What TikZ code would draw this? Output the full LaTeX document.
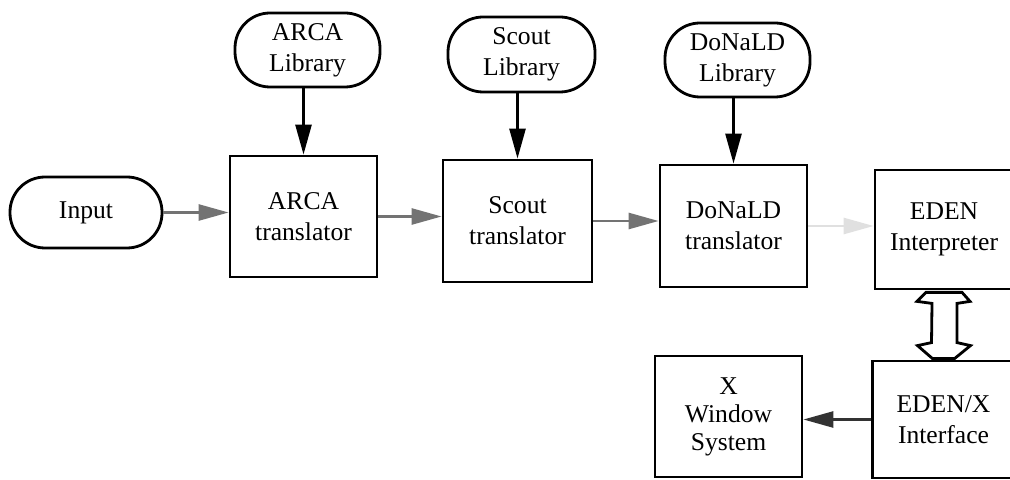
\documentclass[tikz,border=0pt]{standalone}
\usepackage{fontspec}
\setmainfont{Liberation Serif}
\usetikzlibrary{arrows.meta,calc}
\begin{document}
\begin{tikzpicture}[x=0.5pt,y=-0.5pt,
  box/.style={draw,line width=1.4pt,inner sep=0pt,align=center,
    font=\fontsize{12.8}{15.5}\selectfont},
  pill/.style={box,rounded corners=17.5pt},
  arr/.style={line width=1.3pt,-{Triangle[length=15pt,width=8pt]}},
  harr/.style={arr,draw=black!55,fill=black!70},
  faintarr/.style={arr,draw=black!12,fill=black!45},
  hollow/.style={line width=1.4pt,line join=miter,fill=white}]
\useasboundingbox (0,0) rectangle (1010,480);
\clip (0,0) rectangle (1010,480);
\fill[white] (0,0) rectangle (1010,480);

\node[pill,minimum width=76pt,minimum height=35.5pt] (in) at (86,212.5) {Input};
\node[pill,minimum width=72.5pt,minimum height=37pt] (al) at (307.5,50) {ARCA\\Library};
\node[box,minimum width=73.5pt,minimum height=60.5pt] (at) at (303.5,216.5) {ARCA\\translator};
\node[pill,minimum width=73.5pt,minimum height=37.5pt] (sl) at (521.5,54.5) {Scout\\Library};
\node[box,minimum width=74.5pt,minimum height=61pt] (st) at (517.5,221) {Scout\\translator};
\node[pill,minimum width=72.5pt,minimum height=37pt] (dl) at (737.5,60) {DoNaLD\\Library};
\node[box,minimum width=73.5pt,minimum height=61pt] (dt) at (733.5,226) {DoNaLD\\translator};
\node[box,minimum width=69pt,minimum height=59.5pt] (ei) at (944,229.5) {EDEN\\Interpreter};
\node[box,minimum width=73.5pt,minimum height=60.5pt,
  font=\fontsize{12.8}{14}\selectfont] (xw) at (728.5,416.5) {X\\Window\\System};
\node[box,minimum width=71pt,minimum height=58.5pt] (ex) at (943.5,419.5) {EDEN/X\\Interface};

% vertical library arrows
\draw[arr] (al.south -| at.north) -- (at.north);
\draw[arr] (sl.south -| st.north) -- (st.north);
\draw[arr] (dl.south -| dt.north) -- (dt.north);

% horizontal chain
\draw[harr] (in.east) -- (at.west |- in.east);
\draw[harr] (at.east) -- (st.west |- at.east);
\draw[harr] (st.east) -- (dt.west |- st.east);
\draw[faintarr] (dt.east) -- (ei.west |- dt.east);
\draw[arr,draw=black!80,fill=black!65] (ex.west) -- (xw.east |- ex.west);

% hollow double arrow between EDEN Interpreter and EDEN/X Interface
\draw[hollow]
  ($(ei.south)+(-18,2)$) -- ($(ei.south)+(18,2)$) -- ($(ei.south)+(26,11)$)
  -- ($(ei.south)+(13,13)$) -- ($(ex.north)+(13.5,-17)$) -- ($(ex.north)+(27,-14)$)
  -- ($(ex.north)+(11,-1)$) -- ($(ex.north)+(-11,-1)$) -- ($(ex.north)+(-26,-14)$)
  -- ($(ex.north)+(-12,-17)$) -- ($(ei.south)+(-12,13)$) -- ($(ei.south)+(-27,11)$)
  -- cycle;
\end{tikzpicture}
\end{document}
